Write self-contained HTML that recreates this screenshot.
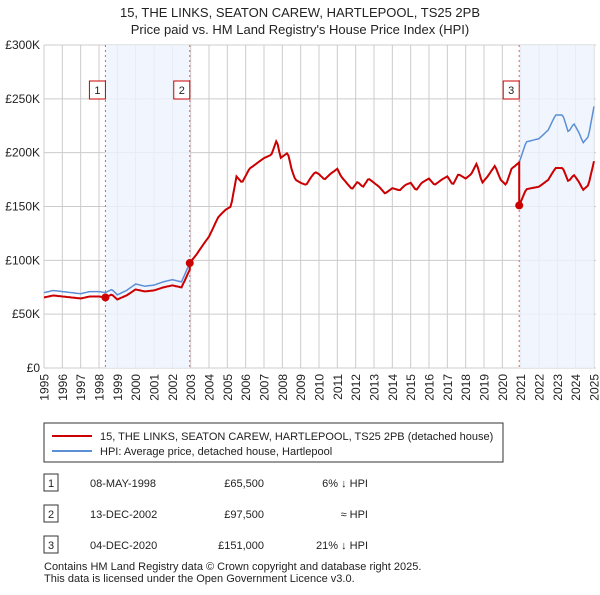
<!DOCTYPE html>
<html><head><meta charset="utf-8"><style>
body{margin:0;background:#fff;font-family:"Liberation Sans","DejaVu Sans",sans-serif;}
svg text{font-family:"Liberation Sans","DejaVu Sans",sans-serif;fill:#222;}
</style></head><body>
<svg id="chart" width="600" height="590">
<text x="300" y="17" font-size="13" text-anchor="middle">15, THE LINKS, SEATON CAREW, HARTLEPOOL, TS25 2PB</text>
<text x="300" y="34" font-size="13" text-anchor="middle">Price paid vs. HM Land Registry's House Price Index (HPI)</text>
<g id="grid"></g><g id="shade"></g><g id="lines"></g><g id="marks"></g><g id="axes"></g>
<rect x="44" y="423" width="459" height="39" fill="#fff" stroke="#333"/>
<line x1="52" y1="436" x2="92" y2="436" stroke="#cc0000" stroke-width="2"/>
<text x="100" y="440" font-size="11">15, THE LINKS, SEATON CAREW, HARTLEPOOL, TS25 2PB (detached house)</text>
<line x1="52" y1="451" x2="92" y2="451" stroke="#5b8fd6" stroke-width="2"/>
<text x="100" y="455" font-size="11">HPI: Average price, detached house, Hartlepool</text>
<g id="table" font-size="11"></g>
<text x="44" y="570" font-size="11" fill="#444">Contains HM Land Registry data © Crown copyright and database right 2025.</text>
<text x="44" y="582" font-size="11" fill="#444">This data is licensed under the Open Government Licence v3.0.</text>
</svg>
<script>
const hpiYears=[1995,1995.5,1996,1996.5,1997,1997.5,1998,1998.35,1998.7,1999,1999.5,2000,2000.5,2001,2001.5,2002,2002.5,2002.95,2003.3,2003.7,2004,2004.5,2004.9,2005.2,2005.5,2005.8,2006.2,2006.6,2007,2007.4,2007.7,2007.9,2008.3,2008.5,2008.7,2009,2009.3,2009.6,2009.8,2010,2010.3,2010.6,2011,2011.2,2011.5,2011.8,2012.1,2012.4,2012.7,2013,2013.3,2013.6,2014,2014.4,2014.7,2015,2015.3,2015.6,2016,2016.3,2016.7,2017,2017.3,2017.6,2018,2018.3,2018.6,2018.9,2019.2,2019.6,2019.9,2020.2,2020.5,2020.92,2021.3,2022,2022.5,2022.9,2023.3,2023.6,2023.9,2024.2,2024.4,2024.7,2025];
const hpiValues=[70,72,71,70,69,71,71,70,73,68,72,78,76,77,80,82,80,97.5,105,115,122,140,147,150,178,172,185,190,195,198,212,195,200,185,175,172,170,178,182,180,175,180,185,178,172,166,173,168,176,172,168,162,167,165,170,172,165,172,176,170,175,178,170,180,176,180,190,172,178,188,175,170,185,191,210,213,221,235,235,219,227,218,209,215,243];
const saleDates=[1998.35,2002.95,2020.92];
const salePrices=[65.5,97.5,151];
const saleLabels=["08-MAY-1998","13-DEC-2002","04-DEC-2020"];
const salePriceText=["£65,500","£97,500","£151,000"];
const saleHpiText=["6% ↓ HPI","≈ HPI","21% ↓ HPI"];
const yTicks=[0,50,100,150,200,250,300];
const yTickLabels=["£0","£50K","£100K","£150K","£200K","£250K","£300K"];
const xTicks=[];for(let y=1995;y<=2025;y++)xTicks.push(y);
const NS="http://www.w3.org/2000/svg";
const X=t=>44+(t-1995)*(550/30);
const Y=v=>368-v*323/300;
function mk(tag,attrs,parent,txt){const e=document.createElementNS(NS,tag);for(const k in attrs)e.setAttribute(k,attrs[k]);if(txt!==undefined)e.textContent=txt;document.getElementById(parent).appendChild(e);return e;}
function hpiAt(t){for(let i=0;i<hpiYears.length-1;i++){if(t<=hpiYears[i+1]){const f=(t-hpiYears[i])/(hpiYears[i+1]-hpiYears[i]);return hpiValues[i]+f*(hpiValues[i+1]-hpiValues[i]);}}return hpiValues[hpiValues.length-1];}
yTicks.forEach((v,i)=>{const l=mk('line',{x1:44,x2:596,y1:Y(v),y2:Y(v),stroke:'#ccc'},'grid');

const t=mk('text',{x:40,y:Y(v)+4,'font-size':12,'text-anchor':'end'},'axes',yTickLabels[i]);
});
xTicks.forEach(yr=>{const l=mk('line',{x1:X(yr),x2:X(yr),y1:45,y2:368,stroke:'#ccc'},'grid');

const xx=X(yr)+4.5,yy=374;
const t=mk('text',{x:xx,y:yy,'font-size':12,'text-anchor':'end',transform:'rotate(-90 '+xx+' '+yy+')'},'axes',String(yr));
});
[[saleDates[0],saleDates[1]],[saleDates[2],2025]].forEach(p=>{const r=mk('rect',{x:X(p[0]),y:45,width:X(p[1])-X(p[0]),height:323,fill:'#eef3fc',opacity:0.8},'shade');
});
saleDates.forEach((d,i)=>{const l=mk('line',{x1:X(d),x2:X(d),y1:45,y2:368,stroke:'#e06060','stroke-dasharray':'2,3'},'shade');

const bx=X(d)-16;const r=mk('rect',{x:bx,y:81,width:16,height:18,fill:'#fff',stroke:'#cc0000'},'marks');

const t=mk('text',{x:bx+8,y:94,'font-size':11,'text-anchor':'middle'},'marks',String(i+1));
});
const pts=[];for(let t=1995;t<=2025.001;t+=1/12)pts.push(t);
const hp=pts.map(t=>X(t).toFixed(1)+','+Y(hpiAt(t)).toFixed(1)).join(' ');
const hl=mk('polyline',{points:hp,fill:'none',stroke:'#5b8fd6','stroke-width':1.5},'lines');

function redAt(t){let k=0;for(let i=0;i<saleDates.length;i++)if(t>=saleDates[i])k=i;return salePrices[k]*hpiAt(t)/hpiAt(saleDates[k]);}
const rp=[];pts.forEach(t=>{saleDates.forEach(d=>{if(d>t-1/12&&d<t){rp.push(X(d)+','+Y(redAt(d-0.001)));rp.push(X(d)+','+Y(redAt(d)));}});rp.push(X(t).toFixed(1)+','+Y(redAt(t)).toFixed(1));});
const rl=mk('polyline',{points:rp.join(' '),fill:'none',stroke:'#cc0000','stroke-width':2},'lines');

saleDates.forEach((d,i)=>{const c=mk('circle',{cx:X(d),cy:Y(salePrices[i]),r:4,fill:'#cc0000'},'marks');
});
saleDates.forEach((d,i)=>{const y=483+i*31;
const r=mk('rect',{x:44,y:y-9,width:14,height:17,fill:'#fff',stroke:'#333'},'table');

const a=mk('text',{x:51,y:y+4,'text-anchor':'middle'},'table',String(i+1));
const b=mk('text',{x:90,y:y+4},'table',saleLabels[i]);
const c=mk('text',{x:264,y:y+4,'text-anchor':'end'},'table',salePriceText[i]);
const e=mk('text',{x:368,y:y+4,'text-anchor':'end'},'table',saleHpiText[i]);});
</script>
</body></html>
